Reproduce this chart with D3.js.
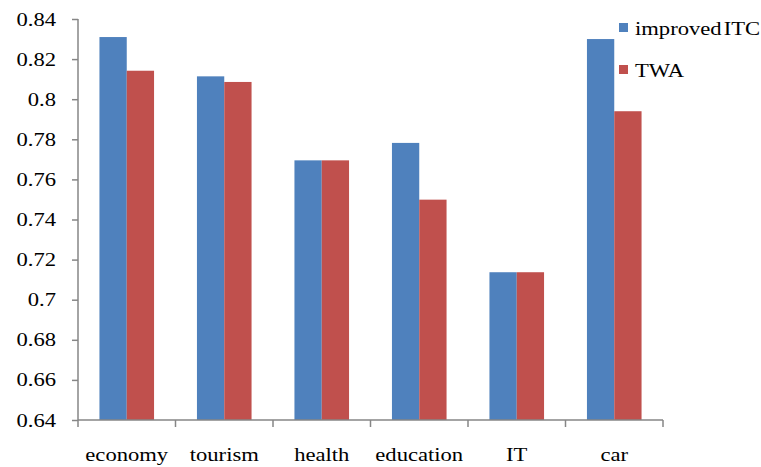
<!DOCTYPE html>
<html>
<head>
<meta charset="utf-8">
<script src="https://cdn.jsdelivr.net/npm/d3@7"></script>
</head>
<body style="margin:0">
<svg id="chart" width="761" height="467" font-family="Liberation Serif"></svg>
<script>
// Categories and the two series compared per category
const categories = ["economy", "tourism", "health", "education", "IT", "car"];
const improvedITC = [0.831, 0.8114, 0.7695, 0.7782, 0.7137, 0.830];
const TWA = [0.8142, 0.8086, 0.7695, 0.7499, 0.7137, 0.794];
const seriesNames = ["improved ITC", "TWA"];
const yTicks = [0.64, 0.66, 0.68, 0.70, 0.72, 0.74, 0.76, 0.78, 0.80, 0.82, 0.84];

const colors = ["#4F81BD", "#C0504D"];
const series = [improvedITC, TWA];
const FONT = "Liberation Serif";
const FS = 19;      // label font size
const SX = 1.19;    // labels are set slightly wide

const svg = d3.select("#chart");
const margin = { left: 78, right: 98, top: 19, bottom: 47 };
const W = 761, H = 467;

const x = d3.scaleBand()
  .domain(categories)
  .range([margin.left, W - margin.right])
  .paddingInner(0.44)
  .paddingOuter(0.22);

const xOuter = d3.scaleBand()
  .domain(categories)
  .range([margin.left, W - margin.right]);

const xSub = d3.scaleBand()
  .domain(d3.range(series.length))
  .range([0, x.bandwidth()]);

const y = d3.scaleLinear()
  .domain([0.64, 0.84])
  .range([H - margin.bottom, margin.top]);

// Bars
const groups = svg.append("g")
  .selectAll("g")
  .data(categories)
  .join("g")
  .attr("transform", d => `translate(${x(d)},0)`);

groups.selectAll("rect")
  .data((d, i) => series.map((s, k) => ({ k, v: s[i] })))
  .join("rect")
  .attr("x", d => xSub(d.k))
  .attr("width", xSub.bandwidth())
  .attr("y", d => y(d.v))
  .attr("height", d => y(0.64) - y(d.v))
  .attr("fill", d => colors[d.k]);

// Y axis
const fmt = v => String(+v.toFixed(2));
const yAxis = svg.append("g")
  .attr("transform", `translate(${margin.left},0)`)
  .call(d3.axisLeft(y).tickValues(yTicks).tickFormat(fmt).tickSize(6).tickPadding(16));
yAxis.attr("font-family", FONT).attr("font-size", FS);
yAxis.selectAll("path, line").attr("stroke", "#868686").attr("stroke-width", 1.5);
yAxis.select(".domain").attr("d", `M0,${y(0.84)}V${y(0.64)}`);
yAxis.selectAll("text")
  .attr("font-family", FONT)
  .attr("font-size", FS)
  .attr("fill", "#000")
  .attr("x", 0)
  .attr("transform", `translate(-22,0) scale(${SX},1)`);

// X axis with ticks on category boundaries
const xAxisG = svg.append("g")
  .attr("transform", `translate(0,${y(0.64)})`);
xAxisG.append("line")
  .attr("x1", margin.left).attr("x2", W - margin.right)
  .attr("stroke", "#868686").attr("stroke-width", 1.5);
const boundaries = categories.map(c => xOuter(c)).concat([xOuter(categories[categories.length - 1]) + xOuter.bandwidth()]);
xAxisG.selectAll("line.tick")
  .data(boundaries)
  .join("line")
  .attr("class", "tick")
  .attr("x1", d => d).attr("x2", d => d)
  .attr("y1", 0).attr("y2", 7)
  .attr("stroke", "#868686").attr("stroke-width", 1.5);
xAxisG.selectAll("text")
  .data(categories)
  .join("text")
  .attr("transform", d => `translate(${xOuter(d) + xOuter.bandwidth() / 2},41) scale(${SX},1)`)
  .attr("text-anchor", "middle")
  .attr("font-family", FONT)
  .attr("font-size", FS)
  .attr("fill", "#000")
  .text(d => d);

// Legend
const legend = svg.append("g").attr("transform", "translate(619,23)");
const li = legend.selectAll("g")
  .data(seriesNames)
  .join("g")
  .attr("transform", (d, i) => `translate(0,${i * 42})`);
li.append("rect").attr("width", 9).attr("height", 9).attr("fill", (d, i) => colors[i]);
li.append("text")
  .attr("transform", `translate(16,12) scale(${SX},1)`)
  .attr("font-family", FONT)
  .attr("font-size", FS)
  .attr("word-spacing", -3)
  .attr("fill", "#000")
  .text(d => d);
</script>
</body>
</html>
